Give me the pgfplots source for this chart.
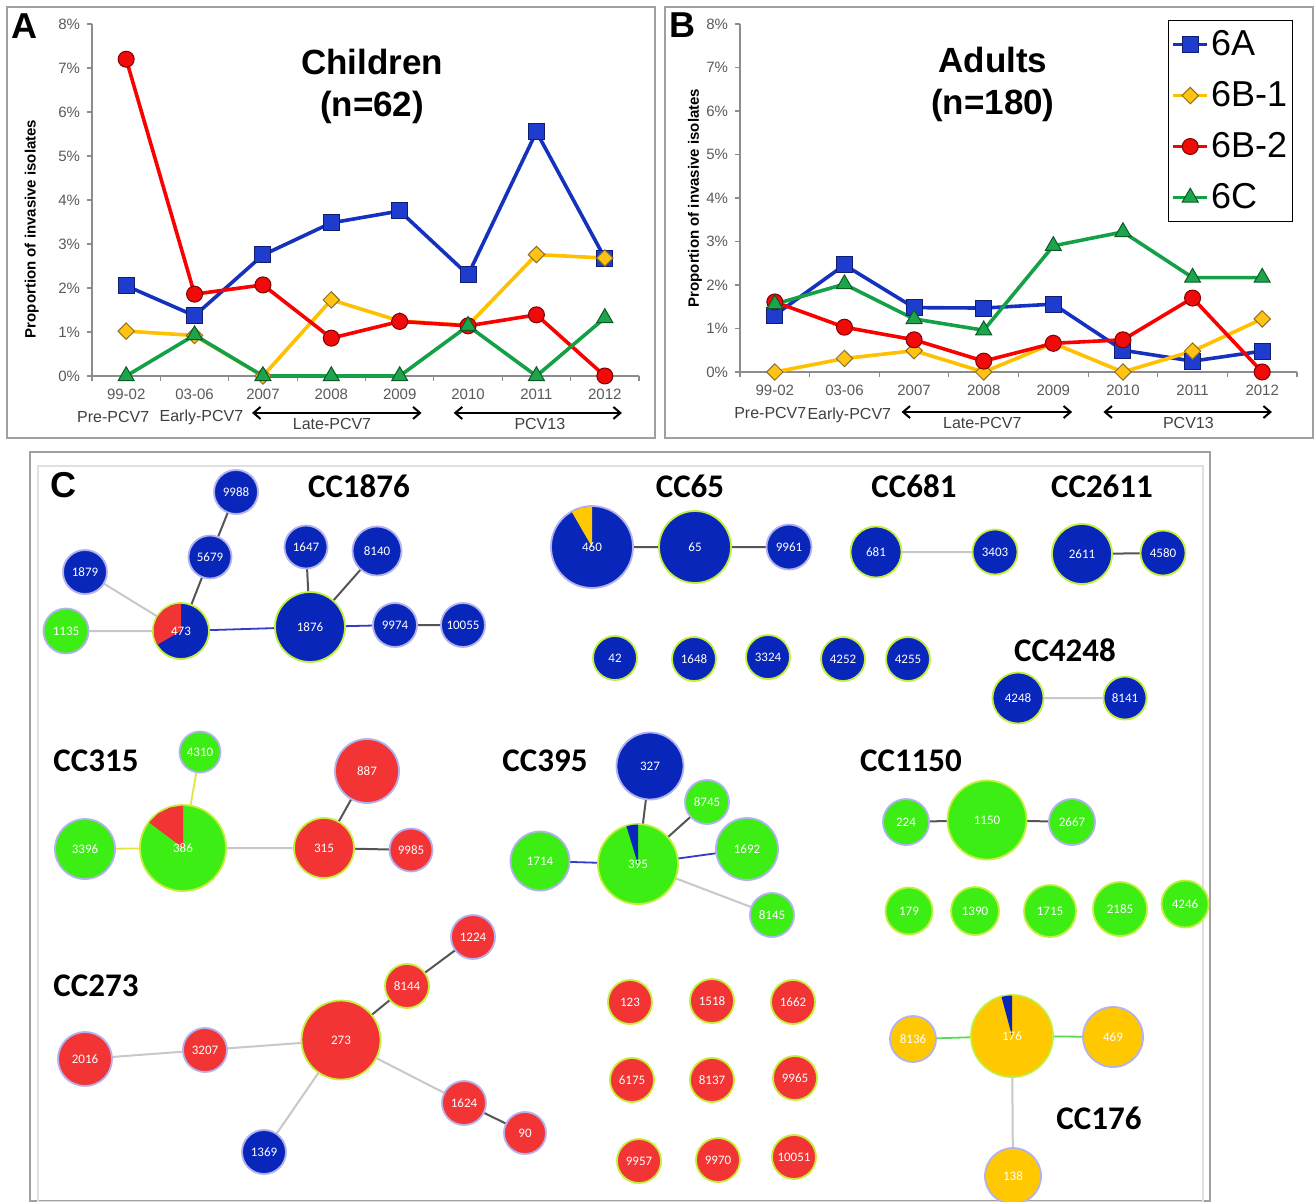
\documentclass[border=0pt]{standalone}
\usepackage{pgfplots}
\pgfplotsset{compat=1.18}
\usepackage{fontspec}
\setmainfont{Liberation Sans}
\newfontfamily\cali{Carlito}
\usetikzlibrary{arrows.meta}

\definecolor{lA}{RGB}{20,50,190}
\definecolor{fA}{RGB}{30,60,205}
\definecolor{dA}{RGB}{15,30,110}
\definecolor{lB}{RGB}{255,192,0}
\definecolor{fB}{RGB}{255,195,20}
\definecolor{dB}{RGB}{140,110,40}
\definecolor{lC}{RGB}{250,0,0}
\definecolor{fC}{RGB}{240,10,10}
\definecolor{dC}{RGB}{130,0,0}
\definecolor{lD}{RGB}{20,160,70}
\definecolor{fD}{RGB}{30,165,75}
\definecolor{dD}{RGB}{10,90,40}
\definecolor{nblue}{RGB}{8,38,185}
\definecolor{nred}{RGB}{242,52,52}
\definecolor{ngreen}{RGB}{60,238,20}
\definecolor{nyel}{RGB}{255,200,0}
\definecolor{rimyg}{RGB}{195,238,60}
\definecolor{rimlav}{RGB}{178,178,238}
\definecolor{eL}{RGB}{200,200,200}
\definecolor{eD}{RGB}{85,85,85}
\definecolor{eB}{RGB}{50,60,200}
\definecolor{eY}{RGB}{225,230,60}
\definecolor{eG}{RGB}{90,220,80}
\definecolor{frm}{RGB}{160,160,160}
\definecolor{tickc}{RGB}{90,90,90}
\definecolor{perc}{RGB}{64,64,64}

\pgfplotsset{
  linechart/.style={
    scale only axis, xmin=-0.5, xmax=7.5, ymin=0, ymax=8, clip=false,
    axis x line*=bottom, axis y line*=left,
    axis line style={black!45, line width=0.7pt},
    tick style={black!45, line width=0.6pt},
    tick align=outside, major tick length=2.5pt,
    xtick={-0.5,0.5,...,7.5}, xticklabels={},
    extra x ticks={0,...,7},
    extra x tick labels={99-02,03-06,2007,2008,2009,2010,2011,2012},
    extra x tick style={major tick length=0pt},
    ytick={0,...,8},
    yticklabels={0\%,1\%,2\%,3\%,4\%,5\%,6\%,7\%,8\%},
    ticklabel style={font=\fontsize{7.5}{9}\selectfont, text=tickc},
    xticklabel style={yshift=-3pt},
  },
  sA/.style={color=lA, line width=1.8pt, mark=square*, mark size=4pt, mark options={fill=fA, draw=dA, line width=0.5pt}},
  sB/.style={color=lB, line width=1.8pt, mark=square*, mark size=2.9pt, mark options={rotate=45, fill=fB, draw=dB, line width=0.5pt}},
  sC/.style={color=lC, line width=1.8pt, mark=*, mark size=4pt, mark options={fill=fC, draw=dC, line width=0.5pt}},
  sD/.style={color=lD, line width=1.8pt, mark=triangle*, mark size=4.6pt, mark options={fill=fD, draw=dD, line width=0.5pt}},
  netaxis/.style={at={(310pt,-413.5pt)}, anchor=center, scale only axis, width=590pt, height=375pt,
    xmin=30, xmax=1210, ymin=452, ymax=1202, y dir=reverse, hide axis, clip=false},
  netnode/.style 2 args={scatter, only marks, mark=*,
    scatter/use mapped color={draw=#2, fill=#1},
    visualization depends on={\thisrow{r} \as \rad},
    scatter/@pre marker code/.append style={/tikz/mark size=\rad},
    mark options={line width=0.9pt}},
}

\begin{document}
\begin{tikzpicture}
\useasboundingbox (0,0) rectangle (658pt,-601pt);
\fill[white] (0,0) rectangle (658pt,-601pt);
% frames
\draw[frm, line width=0.75pt] (3.5pt,-3.5pt) rectangle (327.5pt,-219pt);
\draw[frm, line width=0.75pt] (332.5pt,-3.5pt) rectangle (656.5pt,-219pt);
\draw[frm, line width=0.75pt] (15pt,-226pt) rectangle (605pt,-600.6pt);
\draw[black!12, line width=0.6pt] (19pt,-233pt) rectangle (601.5pt,-601pt);
\node[font=\bfseries\fontsize{18}{20}\selectfont] at (12pt,-13pt) {A};
\node[font=\bfseries\fontsize{18}{20}\selectfont] at (341pt,-12.5pt) {B};

% ---------------- Panel A ----------------
\begin{axis}[linechart, at={(182.75pt,-100pt)}, anchor=center, width=273.5pt, height=176pt]
\addplot[sA] coordinates {(0,2.05) (1,1.37) (2,2.75) (3,3.48) (4,3.75) (5,2.30) (6,5.55) (7,2.68)};
\addplot[sB] coordinates {(0,1.02) (1,0.92) (2,0) (3,1.73) (4,1.25) (5,1.15) (6,2.76) (7,2.68)};
\addplot[sC] coordinates {(0,7.20) (1,1.86) (2,2.07) (3,0.86) (4,1.24) (5,1.14) (6,1.39) (7,0)};
\addplot[sD] coordinates {(0,0) (1,0.93) (2,0) (3,0) (4,0) (5,1.14) (6,0) (7,1.32)};
\node[font=\bfseries\fontsize{17.5}{21}\selectfont, align=center] at (rel axis cs:0.512,0.822) {Children\\(n=62)};
\node[rotate=90, font=\bfseries\fontsize{7.5}{9}\selectfont] at (rel axis cs:-0.11,0.418) {Proportion of invasive isolates};
\node[font=\fontsize{8}{9}\selectfont, text=perc] at (axis cs:-0.19,-0.93) {Pre-PCV7};
\node[font=\fontsize{8}{9}\selectfont, text=perc] at (axis cs:1.10,-0.93) {Early-PCV7};
\draw[{Straight Barb[length=3.5pt,width=6pt]}-{Straight Barb[length=3.5pt,width=6pt]}, line width=1pt] (axis cs:1.84,-0.84) -- (axis cs:4.32,-0.84);
\node[font=\fontsize{8}{9}\selectfont, text=perc] at (axis cs:3.01,-1.09) {Late-PCV7};
\draw[{Straight Barb[length=3.5pt,width=6pt]}-{Straight Barb[length=3.5pt,width=6pt]}, line width=1pt] (axis cs:4.79,-0.84) -- (axis cs:7.25,-0.84);
\node[font=\fontsize{8}{9}\selectfont, text=perc] at (axis cs:6.05,-1.09) {PCV13};
\end{axis}

% ---------------- Panel B ----------------
\begin{axis}[linechart, at={(509.25pt,-99pt)}, anchor=center, width=278.5pt, height=174pt,
  legend style={at={(0.768,1.0115)}, anchor=north west, draw=black, line width=0.6pt, fill=white,
    font=\fontsize{18}{21}\selectfont, inner xsep=1.5pt, inner ysep=3pt, row sep=7.4pt,
    nodes={inner xsep=1pt, inner ysep=2pt}, cells={anchor=west}}]
\addplot[sA] coordinates {(0,1.31) (1,2.46) (2,1.48) (3,1.47) (4,1.56) (5,0.50) (6,0.25) (7,0.48)};
\addlegendentry{6A}
\addplot[sB] coordinates {(0,0) (1,0.31) (2,0.49) (3,0) (4,0.66) (5,0) (6,0.48) (7,1.22)};
\addlegendentry{6B-1}
\addplot[sC] coordinates {(0,1.61) (1,1.03) (2,0.74) (3,0.25) (4,0.66) (5,0.74) (6,1.70) (7,0)};
\addlegendentry{6B-2}
\addplot[sD] coordinates {(0,1.56) (1,2.02) (2,1.22) (3,0.96) (4,2.90) (5,3.22) (6,2.17) (7,2.17)};
\addlegendentry{6C}
\node[font=\bfseries\fontsize{17.5}{21}\selectfont, align=center] at (rel axis cs:0.454,0.825) {Adults\\(n=180)};
\node[rotate=90, font=\bfseries\fontsize{7.5}{9}\selectfont] at (rel axis cs:-0.081,0.50) {Proportion of invasive isolates};
\node[font=\fontsize{8}{9}\selectfont, text=perc] at (axis cs:-0.065,-0.94) {Pre-PCV7};
\node[font=\fontsize{8}{9}\selectfont, text=perc] at (axis cs:1.07,-0.99) {Early-PCV7};
\draw[{Straight Barb[length=3.5pt,width=6pt]}-{Straight Barb[length=3.5pt,width=6pt]}, line width=1pt] (axis cs:1.82,-0.92) -- (axis cs:4.27,-0.92);
\node[font=\fontsize{8}{9}\selectfont, text=perc] at (axis cs:2.98,-1.17) {Late-PCV7};
\draw[{Straight Barb[length=3.5pt,width=6pt]}-{Straight Barb[length=3.5pt,width=6pt]}, line width=1pt] (axis cs:4.72,-0.92) -- (axis cs:7.14,-0.92);
\node[font=\fontsize{8}{9}\selectfont, text=perc] at (axis cs:5.94,-1.17) {PCV13};
\end{axis}

% ---------------- Panel C: edges and nodes ----------------
\begin{axis}[netaxis]
\addplot[eL, line width=1pt, unbounded coords=jump] coordinates {
 (66,631)(181,631) (nan,nan) (85,572)(181,631) (nan,nan) (876,552)(995,552) (nan,nan)
 (1018,698)(1125,698) (nan,nan) (183,848)(324,848) (nan,nan) (638,864)(772,915) (nan,nan)
 (85,1059)(205,1050) (nan,nan) (205,1050)(341,1040) (nan,nan) (341,1040)(464,1103) (nan,nan)
 (341,1040)(264,1152) (nan,nan) (1012,1036)(1013,1176)};
\addplot[eD, line width=1pt, unbounded coords=jump] coordinates {
 (181,631)(210,557) (nan,nan) (210,557)(236,492) (nan,nan) (310,627)(306,547) (nan,nan)
 (310,627)(377,551) (nan,nan) (395,625)(463,625) (nan,nan) (592,547)(695,547) (nan,nan)
 (695,547)(789,547) (nan,nan) (1082,554)(1163,553) (nan,nan) (324,848)(367,771) (nan,nan)
 (324,848)(411,850) (nan,nan) (638,864)(650,766) (nan,nan) (638,864)(707,802) (nan,nan)
 (906,822)(987,820) (nan,nan) (987,820)(1072,822) (nan,nan) (341,1040)(407,986) (nan,nan)
 (407,986)(473,937) (nan,nan) (464,1103)(525,1133)};
\addplot[eB, line width=0.9pt, unbounded coords=jump] coordinates {
 (181,631)(310,627) (nan,nan) (310,627)(395,625) (nan,nan) (540,861)(638,864) (nan,nan) (638,864)(747,849)};
\addplot[eY, line width=0.9pt, unbounded coords=jump] coordinates {
 (85,849)(183,848) (nan,nan) (183,848)(200,752)};
\addplot[eG, line width=0.9pt, unbounded coords=jump] coordinates {
 (913,1039)(1012,1036) (nan,nan) (1012,1036)(1113,1037)};
% nodes (r in pt)
\addplot[netnode={nblue}{rimlav}] table {
x y r
236 492 11
210 557 10.75
85 572 11
306 547 10.75
377 551 12.25
395 625 11
463 625 11
592 547 20.5
789 547 11.25
650 766 16.75
264 1152 11
};
\addplot[netnode={nblue}{rimyg}] table {
x y r
310 627 17.5
181 631 14
695 547 18
876 552 12.75
995 552 11.25
1082 554 15
1163 553 11.25
615 658 11
694 659 11
768 657 11
843 659 11
908 659 11
1018 698 12.75
1125 698 10.75
};
\addplot[netnode={ngreen}{rimlav}] table {
x y r
66 631 11.25
200 752 10.25
85 849 15
540 861 14.75
707 802 11
747 849 15.5
772 915 11
906 822 11.5
1072 822 11.5
};
\addplot[netnode={ngreen}{rimyg}] table {
x y r
183 848 21.5
638 864 20
987 820 19.75
909 911 11.75
975 911 12
1050 911 13
1120 909 13.5
1185 904 11.75
};
\addplot[netnode={nred}{rimlav}] table {
x y r
367 771 16
411 850 10.75
473 937 11
205 1050 11
85 1059 13.5
464 1103 11
525 1133 10.5
};
\addplot[netnode={nred}{rimyg}] table {
x y r
324 848 15
341 1040 19.75
407 986 11
630 1002 11
712 1001 11
793 1002 11
632 1080 11
712 1080 11
795 1078 11
639 1161 11
718 1160 11
794 1157 11
};
\addplot[netnode={nyel}{rimlav}] table {
x y r
913 1039 11.5
1113 1037 15
1013 1176 14
};
\addplot[netnode={nyel}{rimyg}] table {
x y r
1012 1036 20.5
};
\end{axis}

% ---------------- Panel C: pie wedges and labels (overlay) ----------------
\begin{axis}[netaxis]
\addplot[fill=nred, draw=none] coordinates {(181,631) (181,603.5) (171.6,605.2) (163.3,610) (157.2,617.3) (153.9,626.2) (153.9,635.8) (157.2,644.7)} -- cycle;
\addplot[fill=nyel, draw=none] coordinates {(592,547) (592,506.5) (581.5,507.9) (571.8,511.9)} -- cycle;
\addplot[fill=nred, draw=none] coordinates {(183,848) (183,805.5) (169.9,807.6) (158,813.6) (149.1,822.4)} -- cycle;
\addplot[fill=nblue, draw=none] coordinates {(638,864) (638,824.5) (632.5,824.9) (626.4,826.2)} -- cycle;
\addplot[fill=nblue, draw=none] coordinates {(1012,1036) (1012,995.5) (1007.1,995.8) (1001.5,996.9)} -- cycle;
\addplot[draw=none, point meta=explicit symbolic, nodes near coords, nodes near coords align={center},
  every node near coord/.append style={text=white, font=\cali\fontsize{6.5}{7}\selectfont, inner sep=0pt}]
  table[meta=lab] {
x y lab
236 492 9988
210 557 5679
85 572 1879
306 547 1647
377 551 8140
395 625 9974
463 625 10055
592 547 460
789 547 9961
650 766 327
264 1152 1369
310 627 1876
181 631 473
695 547 65
876 552 681
995 552 3403
1082 554 2611
1163 553 4580
615 658 42
694 659 1648
768 657 3324
843 659 4252
908 659 4255
1018 698 4248
1125 698 8141
66 631 1135
200 752 4310
85 849 3396
540 861 1714
707 802 8745
747 849 1692
772 915 8145
906 822 224
1072 822 2667
183 848 386
638 864 395
987 820 1150
909 911 179
975 911 1390
1050 911 1715
1120 909 2185
1185 904 4246
367 771 887
411 850 9985
473 937 1224
205 1050 3207
85 1059 2016
464 1103 1624
525 1133 90
324 848 315
341 1040 273
407 986 8144
630 1002 123
712 1001 1518
793 1002 1662
632 1080 6175
712 1080 8137
795 1078 9965
639 1161 9957
718 1160 9970
794 1157 10051
913 1039 8136
1113 1037 469
1013 1176 138
1012 1036 176
};
% cluster names
\node[font=\bfseries\fontsize{18}{20}\selectfont] at (axis cs:63,485) {C};
\node[font=\cali\bfseries\fontsize{16.5}{18}\selectfont] at (axis cs:359,486) {CC1876};
\node[font=\cali\bfseries\fontsize{16.5}{18}\selectfont] at (axis cs:690,486) {CC65};
\node[font=\cali\bfseries\fontsize{16.5}{18}\selectfont] at (axis cs:914,486) {CC681};
\node[font=\cali\bfseries\fontsize{16.5}{18}\selectfont] at (axis cs:1102,486) {CC2611};
\node[font=\cali\bfseries\fontsize{16.5}{18}\selectfont] at (axis cs:1065,650) {CC4248};
\node[font=\cali\bfseries\fontsize{16.5}{18}\selectfont] at (axis cs:96,761) {CC315};
\node[font=\cali\bfseries\fontsize{16.5}{18}\selectfont] at (axis cs:545,761) {CC395};
\node[font=\cali\bfseries\fontsize{16.5}{18}\selectfont] at (axis cs:911,761) {CC1150};
\node[font=\cali\bfseries\fontsize{16.5}{18}\selectfont] at (axis cs:96,986) {CC273};
\node[font=\cali\bfseries\fontsize{16.5}{18}\selectfont] at (axis cs:1099,1118) {CC176};
\end{axis}
\end{tikzpicture}
\end{document}
